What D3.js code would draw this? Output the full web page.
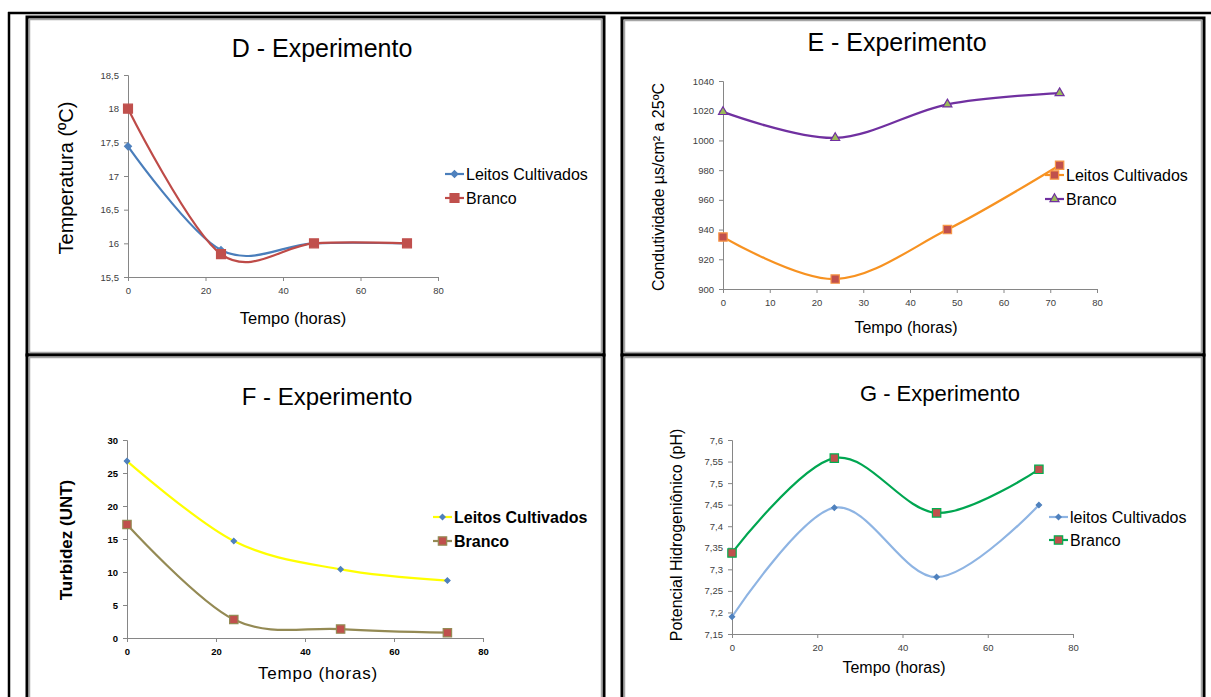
<!DOCTYPE html>
<html>
<head>
<meta charset="utf-8">
<script src="https://cdn.jsdelivr.net/npm/d3@7"></script>
<style>
  html, body { margin: 0; padding: 0; background: #fff; }
  svg { display: block; font-family: "Liberation Sans", Arial, sans-serif; }
</style>
</head>
<body>
<svg id="chart" width="1211" height="697"></svg>
<script>
// Sampling times (hours)
const hours = [0, 24, 48, 72];

// D - temperature (ºC)
const tempLeitos = [17.44, 15.9, 16.0, 16.0];
const tempBranco = [18.0, 15.84, 16.0, 16.0];
const tempTicks = [15.5, 16, 16.5, 17, 17.5, 18, 18.5];

// E - conductivity (µs/cm² a 25ºC)
const condLeitos = [935, 906.7, 940, 983.3];
const condBranco = [1019.2, 1001.7, 1024.3, 1031.9];
const condTicks = [900, 920, 940, 960, 980, 1000, 1020, 1040];

// F - turbidity (UNT)
const turbLeitos = [26.8, 14.7, 10.4, 8.7];
const turbBranco = [17.2, 2.8, 1.35, 0.8];
const turbTicks = [0, 5, 10, 15, 20, 25, 30];

// G - pH
const phLeitos = [7.19, 7.443, 7.282, 7.449];
const phBranco = [7.338, 7.558, 7.431, 7.532];
const phTicks = [7.15, 7.2, 7.25, 7.3, 7.35, 7.4, 7.45, 7.5, 7.55, 7.6];

const hourTicks20 = [0, 20, 40, 60, 80];
const hourTicks10 = [0, 10, 20, 30, 40, 50, 60, 70, 80];

const svg = d3.select("#chart");
const comma = v => String(v).replace(".", ",");

// outer table rules
svg.append("line").attr("x1", 8).attr("x2", 1211).attr("y1", 13).attr("y2", 13)
  .attr("stroke", "#000").attr("stroke-width", 2.5);
svg.append("line").attr("x1", 9).attr("x2", 9).attr("y1", 12).attr("y2", 697)
  .attr("stroke", "#000").attr("stroke-width", 2.5);

function frame(x0, y0, x1, y1) {
  svg.append("rect").attr("x", x0).attr("y", y0).attr("width", x1 - x0).attr("height", y1 - y0)
    .attr("fill", "#fff").attr("stroke", "#000").attr("stroke-width", 3);
  svg.append("rect").attr("x", x0 + 2.5).attr("y", y0 + 2.5).attr("width", x1 - x0 - 5).attr("height", y1 - y0 - 5)
    .attr("fill", "none").attr("stroke", "#a6a6a6").attr("stroke-width", 1.5);
}

function marker(g, type, size, fill, stroke, x, y) {
  const sym = { diamond: d3.symbolDiamond2, square: d3.symbolSquare, triangle: d3.symbolTriangle }[type];
  g.append("path")
    .attr("d", d3.symbol().type(sym).size(size)())
    .attr("transform", `translate(${x},${y})`)
    .attr("fill", fill).attr("stroke", stroke).attr("stroke-width", 1.2);
}

function panel(c) {
  frame(...c.frame);
  const g = svg.append("g");
  const x = d3.scaleLinear().domain([0, 80]).range(c.xr);
  const y = d3.scaleLinear().domain(c.yd).range(c.yr);

  // title
  g.append("text").attr("x", c.title[1]).attr("y", c.title[2]).attr("text-anchor", "middle")
    .attr("font-size", c.title[3]).attr("fill", "#000").text(c.title[0]);

  // axes
  const tickFont = c.boldTicks ? "bold" : "normal";
  const ax = g.append("g").attr("transform", `translate(0,${c.yr[0]})`)
    .call(d3.axisBottom(x).tickValues(c.xticks).tickSize(4).tickPadding(6).tickFormat(d => d));
  const ay = g.append("g").attr("transform", `translate(${c.xr[0]},0)`)
    .call(d3.axisLeft(y).tickValues(c.yticks).tickSize(4).tickPadding(5).tickFormat(comma));
  [ax, ay].forEach(a => {
    a.select(".domain").attr("stroke", "#868686").attr("stroke-width", 1);
    a.selectAll(".tick line").attr("stroke", "#868686");
    a.selectAll(".tick text").attr("font-size", 9.5).attr("font-weight", tickFont)
      .attr("fill", c.boldTicks ? "#000" : "#404040")
      .attr("font-family", "'Liberation Sans', Arial, sans-serif");
  });

  // axis titles
  g.append("text").attr("x", c.xtitle[1]).attr("y", c.xtitle[2]).attr("text-anchor", "middle")
    .attr("font-size", c.xtitle[3]).attr("letter-spacing", c.xtitle[4] || 0)
    .attr("fill", "#000").text(c.xtitle[0]);
  g.append("text").attr("transform", `translate(${c.ytitle[1]},${c.ytitle[2]}) rotate(-90)`)
    .attr("text-anchor", "middle").attr("font-size", c.ytitle[3])
    .attr("font-weight", c.boldYTitle ? "bold" : "normal").attr("fill", "#000").text(c.ytitle[0]);

  // series
  const line = d3.line().x((d, i) => x(hours[i])).y(d => y(d)).curve(d3.curveCardinal.tension(0));
  c.series.forEach(s => {
    g.append("path").datum(s.values).attr("d", line).attr("fill", "none")
      .attr("stroke", s.line).attr("stroke-width", 2.2);
    s.values.forEach((v, i) => marker(g, s.type, s.size, s.fill, s.stroke, x(hours[i]), y(v)));
  });

  // legend
  c.series.forEach((s, i) => {
    const ly = c.legend[1] + i * c.legend[2];
    g.append("line").attr("x1", c.legend[0]).attr("x2", c.legend[0] + 19).attr("y1", ly).attr("y2", ly)
      .attr("stroke", s.line).attr("stroke-width", 2.2);
    marker(g, s.type, s.size, s.fill, s.stroke, c.legend[0] + 9.5, ly);
    g.append("text").attr("x", c.legend[0] + 21).attr("y", ly).attr("dy", "0.35em")
      .attr("font-size", 16).attr("font-weight", c.boldLegend ? "bold" : "normal")
      .attr("fill", "#000").text(s.name);
  });
}

panel({
  frame: [27, 17, 604, 355],
  xr: [128, 438], yr: [277, 75], yd: [15.5, 18.5],
  xticks: hourTicks20, yticks: tempTicks,
  title: ["D - Experimento", 322, 57, 25],
  xtitle: ["Tempo (horas)", 293, 324, 16.5],
  ytitle: ["Temperatura (ºC)", 73, 178, 20],
  legend: [445, 174, 24],
  series: [
    { name: "Leitos Cultivados", values: tempLeitos, line: "#4a7ebb", type: "diamond", size: 30, fill: "#4f81bd", stroke: "#4f81bd" },
    { name: "Branco", values: tempBranco, line: "#be4b48", type: "square", size: 80, fill: "#c0504d", stroke: "#c0504d" }
  ]
});

panel({
  frame: [622, 18, 1204, 355],
  xr: [723, 1097], yr: [289, 81], yd: [900, 1040],
  xticks: hourTicks10, yticks: condTicks,
  title: ["E - Experimento", 897, 51, 25],
  xtitle: ["Tempo (horas)", 906, 333, 16],
  ytitle: ["Condutividade  µs/cm² a 25ºC", 664, 187, 16],
  legend: [1045, 175, 24],
  series: [
    { name: "Leitos Cultivados", values: condLeitos, line: "#f79221", type: "square", size: 70, fill: "#c0504d", stroke: "#f79646" },
    { name: "Branco", values: condBranco, line: "#7030a0", type: "triangle", size: 35, fill: "#9bbb59", stroke: "#7030a0" }
  ]
});

panel({
  frame: [27, 355, 604, 702],
  xr: [127, 483], yr: [638, 440], yd: [0, 30],
  xticks: hourTicks20, yticks: turbTicks, boldTicks: true, boldYTitle: true, boldLegend: true,
  title: ["F - Experimento", 327, 405, 24],
  xtitle: ["Tempo (horas)", 318, 679, 17, 0.8],
  ytitle: ["Turbidez (UNT)", 72, 540, 17],
  legend: [433, 517, 24],
  series: [
    { name: "Leitos Cultivados", values: turbLeitos, line: "#ffff00", type: "diamond", size: 18, fill: "#4f81bd", stroke: "#4f81bd" },
    { name: "Branco", values: turbBranco, line: "#948a54", type: "square", size: 70, fill: "#c0504d", stroke: "#948a54" }
  ]
});

panel({
  frame: [622, 355, 1204, 702],
  xr: [732, 1073], yr: [634, 440], yd: [7.15, 7.6],
  xticks: hourTicks20, yticks: phTicks,
  title: ["G - Experimento", 940, 401, 22],
  xtitle: ["Tempo (horas)", 894, 673, 16],
  ytitle: ["Potencial Hidrogeniônico   (pH)", 682, 535, 16],
  legend: [1049, 517, 23],
  series: [
    { name: "leitos Cultivados", values: phLeitos, line: "#8eb4e3", type: "diamond", size: 18, fill: "#4f81bd", stroke: "#4f81bd" },
    { name: "Branco", values: phBranco, line: "#00a651", type: "square", size: 70, fill: "#c0504d", stroke: "#00b050" }
  ]
});
</script>
</body>
</html>
